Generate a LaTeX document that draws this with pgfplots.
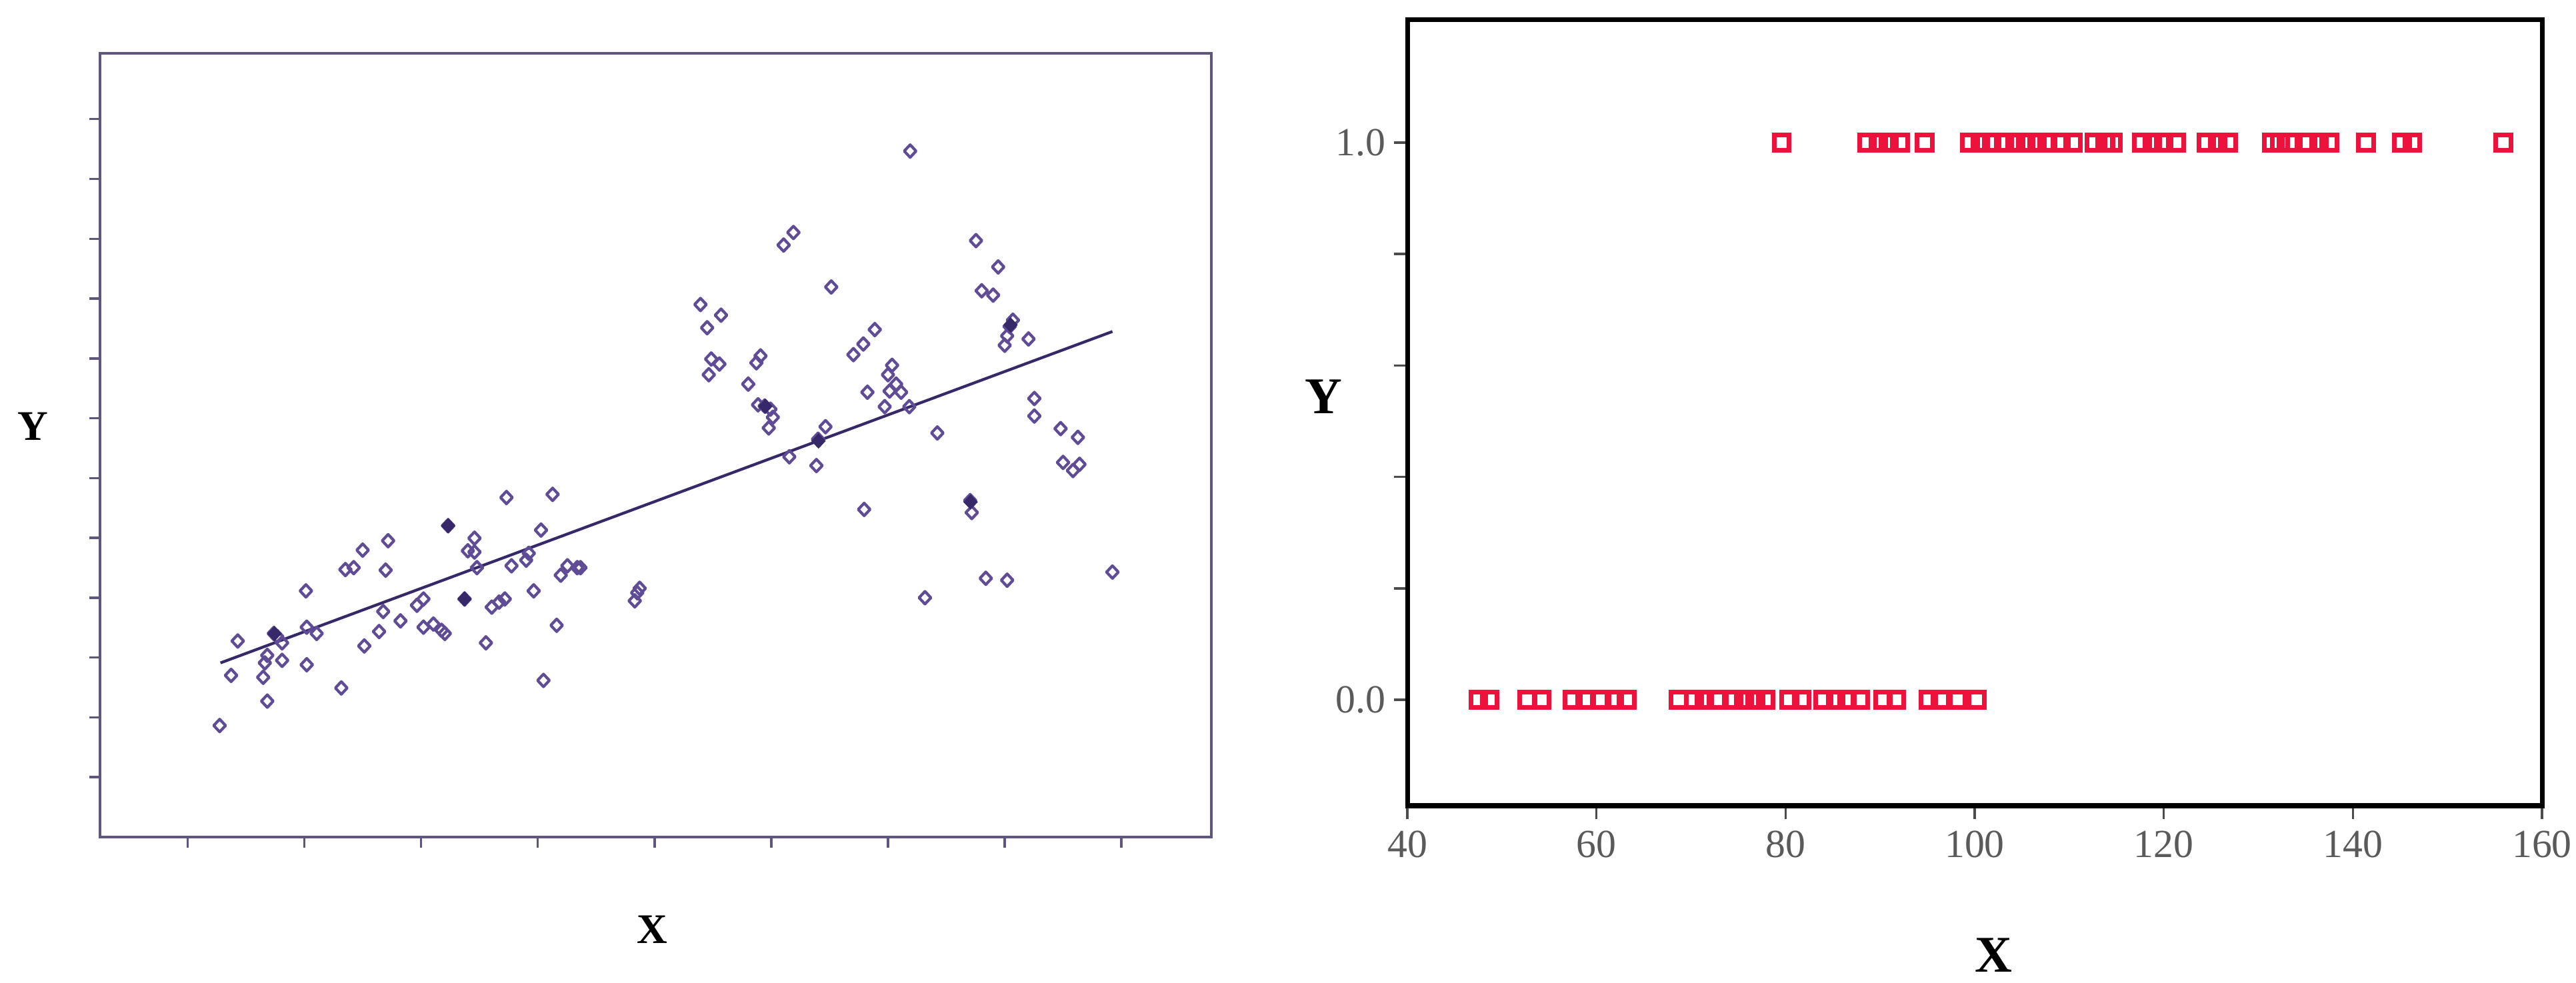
\documentclass[border=0pt]{standalone}
\usepackage{fontspec}
\setmainfont{Liberation Serif}
\usepackage{pgfplots}
\pgfplotsset{compat=1.18}
\definecolor{lmark}{RGB}{95,75,150}
\definecolor{lline}{RGB}{55,40,105}
\definecolor{lbox}{RGB}{95,85,125}
\definecolor{rmark}{RGB}{236,18,60}
\definecolor{tlab}{RGB}{90,90,90}
\begin{document}
\begin{tikzpicture}
\path[use as bounding box] (0,0) rectangle (38.64cm,14.75cm);
% ---------------- left panel ----------------
\begin{axis}[
  at={(1.50cm,2.19cm)}, anchor=south west,
  scale only axis, width=16.67cm, height=11.76cm,
  xmin=0.25, xmax=9.77, ymin=0, ymax=13.1,
  xtick={1,...,9}, ytick={1,...,12},
  xticklabels={}, yticklabels={},
  tick pos=left, tick align=outside, major tick length=0.16cm,
  axis line style={draw=lbox, line width=1pt},
  every tick/.style={draw=lbox, line width=1pt},
  clip=false,
]
\addplot[only marks, mark=diamond, mark size=2.7pt, draw=lmark, line width=1.2pt, mark options={fill=none, xscale=1.25, line join=round}] coordinates {
(1.275,1.864) (1.373,2.702) (1.430,3.277) (1.648,2.670) (1.662,2.911) (1.683,3.037)
(1.683,2.272) (1.739,3.403) (1.768,3.351) (1.810,2.953) (1.810,3.246) (2.014,4.115)
(2.021,2.880) (2.021,3.508) (2.106,3.403) (2.317,2.492) (2.352,4.471) (2.423,4.503)
(2.500,4.796) (2.514,3.194) (2.641,3.435) (2.676,3.770) (2.697,4.461) (2.718,4.953)
(2.824,3.613) (2.965,3.874) (3.021,3.979) (3.021,3.508) (3.106,3.560) (3.176,3.455)
(3.204,3.403) (3.232,5.204) (3.373,3.979) (3.401,4.785) (3.458,4.995) (3.458,4.764)
(3.479,4.503) (3.556,3.246) (3.606,3.843) (3.669,3.927) (3.718,3.979) (3.732,5.675)
(3.775,4.534) (3.901,4.628) (3.923,4.743) (3.965,4.115) (4.028,5.131) (4.049,2.618)
(4.127,5.728) (4.162,3.539) (4.197,4.377) (4.254,4.534) (4.338,4.503) (4.366,4.503)
(4.831,3.948) (4.852,4.084) (4.873,4.157)
(5.394,8.901) (5.451,8.513) (5.465,7.728) (5.486,7.990) (5.556,7.906) (5.570,8.723)
(5.803,7.571) (5.873,7.927) (5.908,8.042) (5.887,7.225) (5.944,7.204) (5.993,7.152)
(6.014,7.016) (5.979,6.838) (6.106,9.895) (6.155,6.356) (6.190,10.105) (6.387,6.209)
(6.401,6.649) (6.465,6.859) (6.514,9.194) (6.704,8.063) (6.789,8.241) (6.796,5.476)
(6.824,7.435) (6.887,8.482) (6.972,7.194) (7.000,7.728) (7.035,7.885) (7.014,7.455)
(7.070,7.571) (7.113,7.435) (7.183,7.194) (7.190,11.466) (7.317,4.000) (7.423,6.754)
(7.704,5.623) (7.718,5.424) (7.754,9.969) (7.803,9.131) (7.838,4.325) (7.901,9.058)
(7.944,9.529) (8.000,8.220) (8.021,8.377) (8.042,8.534) (8.070,8.639) (8.021,4.293)
(8.204,8.325) (8.254,7.330) (8.254,7.037) (8.479,6.827) (8.500,6.262) (8.585,6.126)
(8.627,6.681) (8.641,6.230) (8.923,4.429)
};
% darker (overplotted) points
\addplot[only marks, mark=diamond*, mark size=2.7pt, draw=lline, fill=lline, line width=0.8pt, mark options={xscale=1.25}] coordinates {
(3.232,5.204) (3.373,3.979) (1.745,3.40) (8.050,8.56) (7.708,5.60) (5.950,7.20) (6.405,6.62)
};
\addplot[lline, line width=1.2pt] coordinates {(1.282,2.911) (8.923,8.450)};
\end{axis}
\node[font=\fontsize{18}{20}\selectfont\bfseries] at (0.49cm,8.35cm) {Y};
\node[font=\fontsize{18}{20}\selectfont\bfseries] at (9.78cm,0.80cm) {X};
% ---------------- right panel ----------------
\begin{axis}[
  at={(21.11cm,2.66cm)}, anchor=south west,
  scale only axis, width=17.02cm, height=11.79cm,
  xmin=40, xmax=160, ymin=-0.19, ymax=1.22,
  xtick={40,60,...,160},
  ytick={0,0.2,0.4,0.6,0.8,1.0},
  yticklabels={0.0,,,,,1.0},
  tick pos=left, tick align=outside, major tick length=0.2cm,
  axis line style={draw=black, line width=2pt},
  every tick/.style={draw=black!70, line width=1pt},
  /pgf/number format/assume math mode=true,
  ticklabel style={font=\fontsize{17}{20}\selectfont, text=tlab},
  xticklabel style={yshift=-0.05cm},
  clip=false,
]
\addplot[only marks, mark=square, mark size=3.2pt, draw=rmark, line width=2pt] coordinates {
(79.6,1) (88.6,1) (89.8,1) (90.9,1) (92.1,1) (94.7,1) (99.5,1) (100.6,1) (101.8,1)
(103.1,1) (104.3,1) (105.4,1) (106.6,1) (107.7,1) (109.1,1) (110.4,1) (112.7,1)
(113.8,1) (114.6,1) (117.7,1) (118.8,1) (120.0,1) (121.3,1) (124.5,1) (125.7,1)
(126.8,1) (131.4,1) (132.3,1) (133.3,1) (135.2,1) (136.4,1) (137.5,1) (141.4,1)
(145.2,1) (146.3,1) (155.9,1)
};
\addplot[only marks, mark=square, mark size=3.2pt, draw=rmark, line width=2pt] coordinates {
(47.5,0) (48.7,0) (52.7,0) (54.2,0) (57.5,0) (58.8,0) (60.5,0) (61.9,0) (63.2,0)
(68.7,0) (70.3,0) (71.4,0) (72.7,0) (74.5,0) (75.6,0) (76.8,0) (77.9,0) (80.4,0)
(81.7,0) (84.0,0) (85.3,0) (86.5,0) (87.9,0) (90.3,0) (91.7,0) (95.1,0) (96.4,0)
(98.2,0) (100.2,0)
};
\end{axis}
\node[font=\fontsize{22}{24}\selectfont\bfseries] at (19.85cm,8.80cm) {Y};
\node[font=\fontsize{22}{24}\selectfont\bfseries] at (29.90cm,0.42cm) {X};
\end{tikzpicture}
\end{document}
